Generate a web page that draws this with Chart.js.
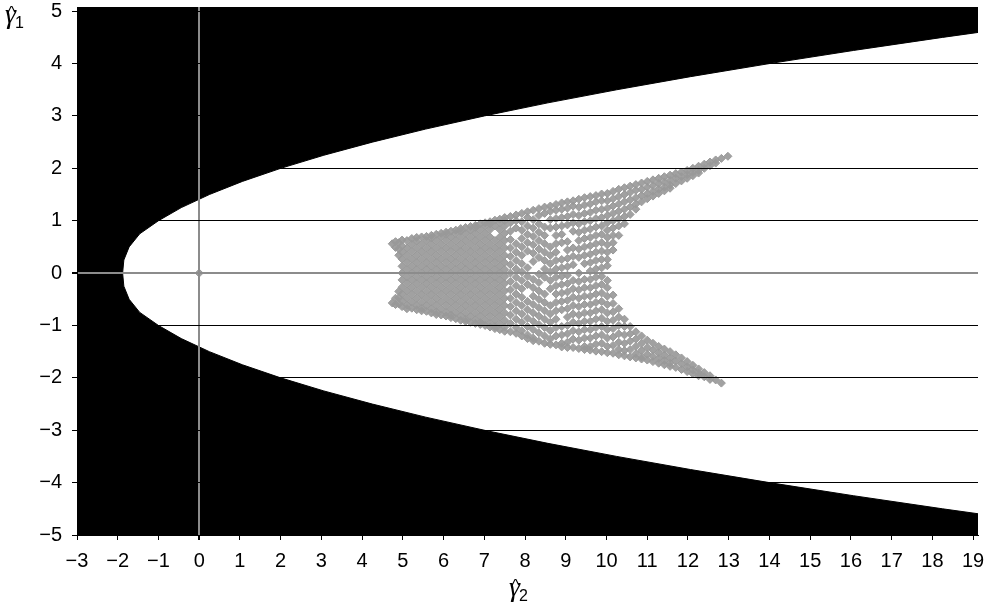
<!DOCTYPE html>
<html>
<head>
<meta charset="utf-8">
<script src="https://cdn.jsdelivr.net/npm/chart.js@4.4.0/dist/chart.umd.min.js"></script>
<style>
  html, body { margin: 0; padding: 0; background: #fff; }
</style>
</head>
<body>
<canvas id="momentChart" width="988" height="608"></canvas>
<script>
// Edge of the admissible region (gamma2 >= gamma1^2 - 2), read along gamma1
const edgeG2 = [-3, -1.88, -1.85, -1.72, -1.46, -1, -0.44, 0.25, 1.06, 2, 3.06, 4.25, 5.56, 7, 8.56, 10.25, 12.06, 14, 16.06, 18.25, 20.56, 23, 24.01];
const edgeUpperG1 = [0, 0, 0.25, 0.5, 0.75, 1, 1.25, 1.5, 1.75, 2, 2.25, 2.5, 2.75, 3, 3.25, 3.5, 3.75, 4, 4.25, 4.5, 4.75, 5, 5.1];
const edgeLowerG1 = [0, 0, -0.25, -0.5, -0.75, -1, -1.25, -1.5, -1.75, -2, -2.25, -2.5, -2.75, -3, -3.25, -3.5, -3.75, -4, -4.25, -4.5, -4.75, -5, -5.1];

// Estimated (gamma2, gamma1) pairs, grouped by gamma2 column
const bodyG2 = [0, 4.74, 4.82, 4.9, 4.98, 5.1, 5.22, 5.34, 5.46, 5.58, 5.7, 5.82, 5.94, 6.06, 6.18, 6.3, 6.42, 6.54, 6.66, 6.78, 6.9, 7.02, 7.14, 7.26, 7.38, 7.5];
const bodyG1 = [
  [0],
  [0.56, -0.57],
  [0.6, 0.49, -0.48, -0.6],
  [0.58, 0.46, 0.34, -0.35, -0.47, -0.59],
  [0.63, 0.52, 0.4, 0.27, 0.13, 0.0, -0.13, -0.27, -0.4, -0.53, -0.64],
  [0.62, 0.48, 0.34, 0.2, 0.07, -0.07, -0.2, -0.34, -0.48, -0.61, -0.68],
  [0.66, 0.55, 0.41, 0.27, 0.13, 0.0, -0.13, -0.27, -0.41, -0.55, -0.67],
  [0.68, 0.61, 0.48, 0.34, 0.2, 0.07, -0.07, -0.2, -0.34, -0.48, -0.62, -0.7],
  [0.69, 0.55, 0.41, 0.27, 0.13, 0.0, -0.13, -0.27, -0.41, -0.55, -0.67, -0.72],
  [0.7, 0.62, 0.48, 0.34, 0.2, 0.07, -0.07, -0.2, -0.34, -0.48, -0.62, -0.73],
  [0.72, 0.67, 0.55, 0.41, 0.27, 0.13, 0.0, -0.13, -0.27, -0.41, -0.55, -0.68, -0.76],
  [0.74, 0.62, 0.48, 0.34, 0.2, 0.07, -0.07, -0.2, -0.34, -0.48, -0.62, -0.74, -0.79],
  [0.76, 0.69, 0.55, 0.41, 0.27, 0.13, 0.0, -0.13, -0.27, -0.41, -0.55, -0.69, -0.8],
  [0.78, 0.74, 0.62, 0.48, 0.34, 0.2, 0.07, -0.07, -0.2, -0.34, -0.48, -0.62, -0.75, -0.82],
  [0.8, 0.69, 0.55, 0.41, 0.27, 0.13, 0.0, -0.13, -0.27, -0.41, -0.55, -0.69, -0.8, -0.85],
  [0.82, 0.76, 0.62, 0.48, 0.34, 0.2, 0.07, -0.07, -0.2, -0.34, -0.48, -0.62, -0.76, -0.87],
  [0.85, 0.8, 0.69, 0.55, 0.41, 0.27, 0.13, 0.0, -0.13, -0.27, -0.41, -0.55, -0.69, -0.82, -0.9],
  [0.87, 0.76, 0.62, 0.48, 0.34, 0.2, 0.07, -0.07, -0.2, -0.34, -0.48, -0.62, -0.76, -0.88, -0.92],
  [0.89, 0.82, 0.69, 0.55, 0.41, 0.27, 0.13, 0.0, -0.13, -0.27, -0.41, -0.55, -0.69, -0.83, -0.94],
  [0.91, 0.87, 0.76, 0.62, 0.48, 0.34, 0.2, 0.07, -0.07, -0.2, -0.34, -0.48, -0.62, -0.76, -0.89, -0.96],
  [0.94, 0.83, 0.69, 0.55, 0.41, 0.27, 0.13, 0.0, -0.13, -0.27, -0.41, -0.55, -0.69, -0.83, -0.94, -0.98],
  [0.96, 0.9, 0.76, 0.62, 0.48, 0.34, 0.2, 0.07, -0.07, -0.2, -0.34, -0.48, -0.62, -0.76, -0.9, -1.0],
  [0.98, 0.94, 0.83, 0.69, 0.55, 0.41, 0.27, 0.13, 0.0, -0.13, -0.27, -0.41, -0.55, -0.69, -0.83, -0.96, -1.03],
  [1.01, 0.9, 0.62, 0.48, 0.34, 0.2, 0.07, -0.07, -0.2, -0.34, -0.48, -0.62, -0.76, -0.9, -1.02, -1.06],
  [1.03, 0.96, 0.83, 0.69, 0.55, 0.41, 0.27, 0.13, 0.0, -0.13, -0.27, -0.41, -0.55, -0.69, -0.83, -0.97, -1.08],
  [1.06, 1.0, 0.9, 0.76, 0.62, 0.48, 0.34, 0.2, 0.07, -0.07, -0.2, -0.34, -0.48, -0.62, -0.76, -0.9, -1.03, -1.11]
];

const midG2 = [7.64, 7.78, 7.92, 8.06, 8.2, 8.34, 8.48, 8.62, 8.76, 8.9, 9.04, 9.18, 9.32, 9.46, 9.6, 9.74, 9.88];
const midG1 = [
  [1.08, 0.96, 0.8, 0.64, 0.48, 0.32, 0.16, 0.0, -0.16, -0.32, -0.48, -0.64, -0.8, -0.96, -1.12],
  [1.11, 1.0, 0.86, 0.56, 0.4, 0.24, 0.08, -0.08, -0.24, -0.4, -0.56, -0.72, -0.88, -1.04, -1.15],
  [1.14, 0.98, 0.82, 0.66, 0.5, 0.34, 0.18, 0.02, -0.14, -0.3, -0.46, -0.62, -0.78, -0.94, -1.1, -1.2],
  [1.17, 1.06, 0.9, 0.74, 0.58, 0.42, 0.1, -0.06, -0.22, -0.54, -0.7, -0.86, -1.02, -1.18, -1.25],
  [1.2, 1.02, 0.86, 0.7, 0.54, 0.38, 0.22, -0.12, -0.28, -0.44, -0.6, -0.76, -0.92, -1.08, -1.24, -1.29],
  [1.23, 1.1, 0.94, 0.78, 0.62, 0.46, 0.3, -0.02, -0.18, -0.34, -0.5, -0.66, -0.82, -0.98, -1.14, -1.3],
  [1.26, 1.14, 0.88, 0.72, 0.56, 0.4, 0.24, 0.08, -0.08, -0.4, -0.56, -0.72, -0.88, -1.04, -1.2, -1.34],
  [1.28, 1.18, 1.02, 0.86, 0.5, 0.34, 0.18, 0.02, -0.14, -0.3, -0.62, -0.78, -0.94, -1.1, -1.26, -1.36],
  [1.31, 1.2, 1.04, 0.88, 0.72, 0.56, 0.4, 0.24, 0.08, -0.08, -0.24, -0.4, -0.56, -0.72, -0.88, -1.04, -1.2, -1.37],
  [1.34, 1.22, 1.06, 0.9, 0.74, 0.58, 0.26, 0.1, -0.06, -0.22, -0.38, -0.54, -0.7, -1.02, -1.18, -1.34, -1.41],
  [1.36, 1.24, 1.08, 0.92, 0.6, 0.44, 0.28, 0.12, -0.04, -0.2, -0.36, -0.52, -0.68, -0.84, -1.0, -1.16, -1.32, -1.42],
  [1.38, 1.28, 1.12, 0.96, 0.8, 0.48, 0.32, 0.16, -0.14, -0.3, -0.46, -0.62, -0.78, -0.94, -1.1, -1.26, -1.42],
  [1.41, 1.26, 1.1, 0.94, 0.78, 0.62, 0.46, 0.3, 0.0, -0.16, -0.32, -0.48, -0.64, -0.8, -0.96, -1.12, -1.28, -1.44],
  [1.44, 1.3, 1.14, 0.98, 0.82, 0.66, 0.5, 0.34, 0.18, -0.12, -0.28, -0.44, -0.6, -0.76, -0.92, -1.08, -1.24, -1.4, -1.46],
  [1.46, 1.32, 1.16, 1.0, 0.84, 0.68, 0.52, 0.36, 0.2, 0.04, -0.12, -0.28, -0.44, -0.6, -0.76, -0.92, -1.08, -1.24, -1.4, -1.47],
  [1.48, 1.36, 1.2, 1.04, 0.88, 0.72, 0.56, 0.4, 0.24, 0.08, -0.08, -0.24, -0.4, -0.56, -0.72, -0.88, -1.04, -1.2, -1.36, -1.49],
  [1.51, 1.38, 1.22, 1.06, 0.9, 0.74, 0.58, 0.42, 0.26, 0.1, -0.06, -0.22, -0.38, -0.54, -0.7, -0.86, -1.02, -1.18, -1.34, -1.5]
];

const armG2 = [10.02, 10.16, 10.3, 10.44, 10.58, 10.72, 10.86, 11.0, 11.14, 11.28, 11.42, 11.56, 11.7, 11.84, 11.98, 12.12, 12.26, 12.4, 12.54, 12.68, 12.82, 12.98];
const armG1 = [
  [1.52, 1.38, 1.24, 1.1, 0.96, 0.82, 0.68, 0.54, 0.4, 0.26, 0.14, -0.14, -0.28, -0.44, -0.6, -0.76, -0.92, -1.08, -1.24, -1.4, -1.52],
  [1.56, 1.42, 1.28, 1.14, 1.0, 0.86, 0.72, 0.58, 0.44, -0.42, -0.58, -0.74, -0.9, -1.06, -1.22, -1.38, -1.53],
  [1.6, 1.46, 1.32, 1.18, 1.04, 0.9, 0.72, -0.68, -0.84, -1.0, -1.16, -1.32, -1.46, -1.56],
  [1.63, 1.5, 1.36, 1.22, 1.08, 0.94, -0.88, -1.02, -1.18, -1.34, -1.48, -1.58],
  [1.66, 1.54, 1.4, 1.26, 1.12, -1.02, -1.16, -1.3, -1.46, -1.6],
  [1.69, 1.58, 1.44, 1.32, 1.22, -1.12, -1.26, -1.4, -1.54, -1.62],
  [1.72, 1.6, 1.48, 1.36, -1.2, -1.34, -1.48, -1.6, -1.64],
  [1.75, 1.64, 1.52, 1.42, -1.28, -1.42, -1.55, -1.66],
  [1.78, 1.67, 1.56, 1.47, -1.34, -1.47, -1.59, -1.69],
  [1.81, 1.71, 1.6, 1.52, -1.4, -1.52, -1.63, -1.72],
  [1.84, 1.74, 1.64, 1.57, -1.45, -1.57, -1.67, -1.75],
  [1.87, 1.77, 1.68, 1.62, -1.5, -1.62, -1.72, -1.78],
  [1.9, 1.81, 1.71, -1.56, -1.68, -1.8],
  [1.93, 1.84, 1.76, -1.62, -1.73, -1.84],
  [1.96, 1.88, 1.81, -1.69, -1.79, -1.88],
  [2.0, 1.92, 1.86, -1.76, -1.85, -1.92],
  [2.04, 1.96, 1.91, -1.83, -1.91, -1.96],
  [2.08, 2.0, -1.9, -1.98],
  [2.12, 2.05, -1.96, -2.03],
  [2.16, 2.1, -2.04],
  [2.19, -2.1],
  [2.23]
];

const xTicks = { min: -3, max: 19 };
const yTicks = { min: -5, max: 5 };

function columnsToPoints(g2, g1) {
  const pts = [];
  g2.forEach((x, i) => g1[i].forEach(y => pts.push({ x: x, y: y })));
  return pts;
}

const samplePoints = columnsToPoints(bodyG2, bodyG1)
  .concat(columnsToPoints(midG2, midG1))
  .concat(columnsToPoints(armG2, armG1));

const upperEdge = edgeG2.map((x, i) => ({ x: x, y: edgeUpperG1[i] }));
const lowerEdge = edgeG2.map((x, i) => ({ x: x, y: edgeLowerG1[i] }));

const minusSign = v => String(v).replace('-', '\u2212');

// gamma-hat with a subscript, drawn as plain text pieces
function drawHatLabel(ctx, x, y, sub) {
  ctx.save();
  ctx.fillStyle = '#000';
  ctx.textBaseline = 'alphabetic';
  ctx.textAlign = 'left';
  ctx.font = 'italic 28px "Liberation Serif"';
  ctx.fillText('\u03B3', x, y);
  const w = ctx.measureText('\u03B3').width;
  ctx.font = '17px "Liberation Sans"';
  ctx.textAlign = 'center';
  ctx.fillText('^', x + w / 2 + 1, y - 5);
  ctx.textAlign = 'left';
  ctx.font = '16px "Liberation Sans"';
  ctx.fillText(sub, x + w - 1, y + 5);
  ctx.restore();
}

const axisTitles = {
  id: 'axisTitles',
  afterDraw(chart) {
    drawHatLabel(chart.ctx, 5, 23, '1');
    drawHatLabel(chart.ctx, 509, 596, '2');
  }
};

// keep the plot box fixed regardless of label overhang
function fixBox(size, prop) {
  return scale => {
    scale[prop] = size;
    scale.paddingTop = 0;
    scale.paddingBottom = 0;
    scale.paddingLeft = 0;
    scale.paddingRight = 0;
  };
}

const ctx = document.getElementById('momentChart').getContext('2d');
const momentChart = new Chart(ctx, {
  type: 'scatter',
  data: {
    datasets: [{
      label: 'estimates',
      data: samplePoints,
      order: 1,
      pointStyle: 'rectRot',
      pointRadius: 4,
      pointHoverRadius: 4,
      pointBorderWidth: 1,
      borderColor: '#999999',
      backgroundColor: 'rgba(153, 153, 153, 0.92)'
    }, {
      type: 'line',
      label: 'upper bound',
      data: upperEdge,
      order: 2,
      fill: 'end',
      tension: 0,
      pointRadius: 0,
      borderWidth: 1,
      borderColor: '#000',
      backgroundColor: '#000'
    }, {
      type: 'line',
      label: 'lower bound',
      data: lowerEdge,
      order: 3,
      fill: 'start',
      tension: 0,
      pointRadius: 0,
      borderWidth: 1,
      borderColor: '#000',
      backgroundColor: '#000'
    }]
  },
  options: {
    responsive: false,
    animation: false,
    layout: { padding: { top: 7, right: 10, left: 0, bottom: 0 } },
    plugins: {
      legend: { display: false },
      tooltip: { enabled: false }
    },
    scales: {
      x: {
        type: 'linear',
        min: xTicks.min,
        max: xTicks.max + 0.12,
        afterFit: fixBox(73, 'height'),
        border: { color: '#000', width: 1, z: 1 },
        grid: {
          z: 1,
          tickLength: 5,
          tickColor: '#000',
          color: c => c.tick && c.tick.value === 0 ? '#8c8c8c' : 'rgba(0,0,0,0)',
          lineWidth: c => c.tick && c.tick.value === 0 ? 2 : 1
        },
        ticks: {
          stepSize: 1,
          includeBounds: false,
          autoSkip: false,
          maxRotation: 0,
          padding: 9,
          color: '#000',
          font: { family: '"Liberation Sans", Arial, sans-serif', size: 20 },
          callback: minusSign
        }
      },
      y: {
        type: 'linear',
        min: yTicks.min,
        max: yTicks.max + 0.08,
        afterFit: fixBox(77, 'width'),
        border: { color: '#000', width: 1, z: 1 },
        grid: {
          z: 1,
          tickLength: 5,
          tickColor: '#000',
          color: c => c.tick && c.tick.value === 0 ? '#8c8c8c' : '#000',
          lineWidth: c => c.tick && c.tick.value === 0 ? 2 : 1
        },
        ticks: {
          stepSize: 1,
          includeBounds: false,
          padding: 10,
          color: '#000',
          font: { family: '"Liberation Sans", Arial, sans-serif', size: 20 },
          callback: minusSign
        }
      }
    }
  },
  plugins: [axisTitles]
});
</script>
</body>
</html>
